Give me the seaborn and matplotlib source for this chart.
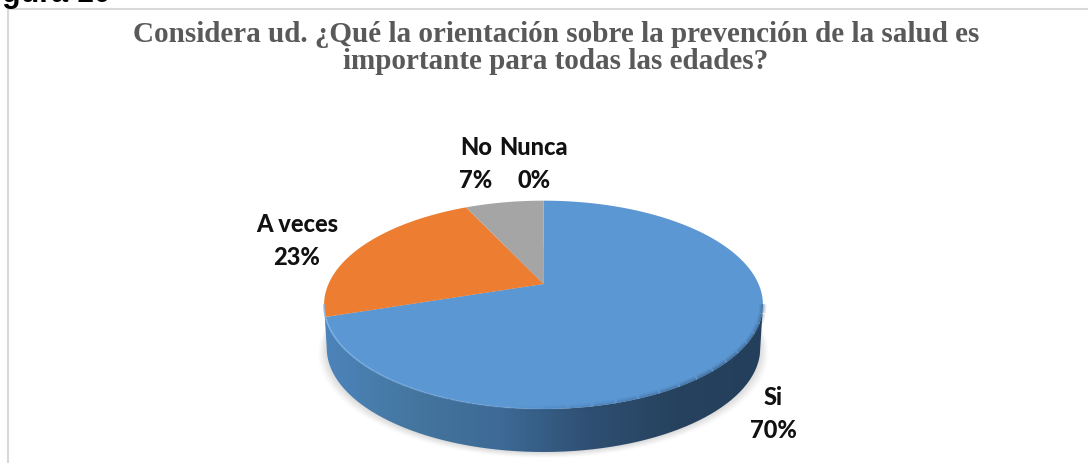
import numpy as np
import matplotlib
matplotlib.use("Agg")
import matplotlib.pyplot as plt
from matplotlib.patches import PathPatch
from matplotlib.path import Path
import seaborn as sns

categories = ["Si", "A veces", "No", "Nunca"]
values = [70, 23, 7, 0]
slice_colors = ["#5B97D3", "#ED7D31", "#A5A5A5", "#FFC000"]
title = "Considera ud. ¿Qué la orientación sobre la prevención de la salud es\nimportante para todas las edades?"
caption = "Figura 10"

sns.set_theme(style="white")
sns.set_palette(slice_colors)


def tilt(xy):
    # flat pie -> tilted pie on the page, far side smaller
    u, v = xy[:, 0], xy[:, 1]
    den = 1 + 0.2 * v
    return np.column_stack([543.5 + 215 * u / den, 285 - 100 * v / den])


fig = plt.figure(figsize=(10.88, 4.64), dpi=100)
ax = fig.add_axes([0, 0, 1, 1])
wedges, _ = ax.pie(values, colors=slice_colors, startangle=90, counterclock=False)
ax.set_aspect("auto")

t = np.linspace(0, 2 * np.pi, 500)
rim = tilt(np.column_stack([np.cos(t), np.sin(t)]))
# near side of the rim, left end to right end
near = np.linspace(np.pi + 0.2, 2 * np.pi - 0.2, 300)
front = tilt(np.column_stack([np.cos(near), np.sin(near)]))
depth = 43
lower = front + [0, depth]
lower[:, 0] = 543.5 + (lower[:, 0] - 543.5) * 0.988

# soft shadow under the pie
for grow, alpha in zip(range(10, 0, -1), [0.012, 0.016, 0.02, 0.024, 0.028, 0.03, 0.03, 0.03, 0.03, 0.03]):
    sh = rim.copy()
    sh[:, 0] = 543.5 + (sh[:, 0] - 543.5) * (0.985 + grow / 240)
    sh[:, 1] = sh[:, 1] + depth + grow * 0.6
    ax.add_patch(PathPatch(Path(sh), fc="#707070", ec="none", alpha=alpha, zorder=1))

# side wall with gradient
wall = np.vstack([front, lower[::-1], front[:1]])
wall_patch = PathPatch(Path(wall), fc="none", ec="none", zorder=2)
ax.add_patch(wall_patch)
wall_cmap = sns.blend_palette(["#4C84BB", "#44769F", "#3D6A96", "#2F5073", "#26425E", "#243F5B"], as_cmap=True)
img = ax.imshow(np.linspace(0, 1, 256).reshape(1, -1), cmap=wall_cmap, aspect="auto",
                extent=[324, 763, 470, 290], zorder=2)
img.set_clip_path(wall_patch)
ax.set_xlim(0, 1088)
ax.set_ylim(464, 0)
ax.set_axis_off()

# slices from the pie, bent onto the tilted plane
for w, c in zip(wedges, slice_colors):
    w.set_visible(False)
    if w.theta2 - w.theta1 < 0.01:
        continue
    a = np.radians(np.linspace(w.theta1, w.theta2, 300))
    pts = np.vstack([[0, 0], np.column_stack([np.cos(a), np.sin(a)]), [0, 0]])
    ax.add_patch(PathPatch(Path(tilt(pts)), fc=c, ec="none", zorder=3))

# bevel along the front edge: light on the left fading out, dark blur growing to the right
chunks = np.array_split(front, 30)
for i, seg in enumerate(chunks):
    k = i / 29
    if k < 0.6:
        ax.plot(seg[:, 0], seg[:, 1], color="#86B8EA", lw=1.3, alpha=0.8 * (1 - k / 0.6), zorder=4)
    if k > 0.45:
        for lw, alpha in zip([5, 3, 1.5], [0.12, 0.15, 0.2]):
            ax.plot(seg[:, 0], seg[:, 1] - 0.5, color="#2A4A6C", lw=lw,
                    alpha=alpha * min(1, (k - 0.45) / 0.3), zorder=4, solid_capstyle="butt")

# frame
ax.plot([8, 8], [464, 10], color="#D9D9D9", lw=1.5, zorder=0)
ax.plot([8, 1088], [10, 10], color="#D9D9D9", lw=1.5, zorder=0)

ax.text(556, 48, title, ha="center", va="center", family="Liberation Serif", weight="bold",
        fontsize=21, color="#595959", linespacing=1.0)
ax.text(-25, 2, caption, ha="left", va="baseline", family="Liberation Sans", weight="bold",
        fontsize=22, color="black")

# value labels
label_pos = {"Si": (773, 414), "A veces": (297, 241), "No": (476, 164), "Nunca": (534, 164)}
for name, v in zip(categories, values):
    x, y = label_pos[name]
    ax.text(x, y, f"{name}\n{v}%", ha="center", va="center", family="Lato", weight="black",
            fontsize=17, color="#111111", linespacing=1.5, zorder=5)

fig.savefig("out.png", dpi=100)
